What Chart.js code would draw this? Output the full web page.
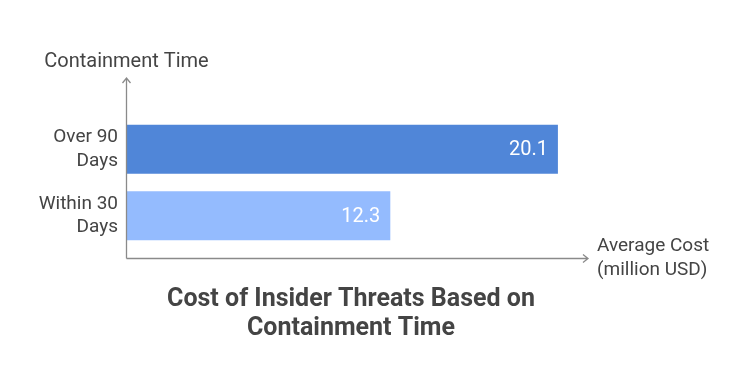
<!DOCTYPE html>
<html>
<head>
<meta charset="utf-8">
<script src="https://cdn.jsdelivr.net/npm/chart.js@4/dist/chart.umd.min.js"></script>
<style>
  html, body { margin: 0; padding: 0; background: #fff; }
  #wrap { width: 750px; height: 390px; }
</style>
</head>
<body>
<div id="wrap"><canvas id="chart"></canvas></div>
<script>
// ========== DATA ==========
const categories = [['Over 90', 'Days'], ['Within 30', 'Days']];
const costs = [20.1, 12.3];
const barColors = ['#5086d8', '#94bbfe'];
const yTitle = 'Containment Time';
const xTitle = ['Average Cost', '(million USD)'];
const chartTitle = ['Cost of Insider Threats Based on', 'Containment Time'];

const TEXT = '#444444';
const AXIS = '#8a8a8a';
const FONT = 'Roboto, "Open Sans", sans-serif';

// ========== AXES + LABELS PLUGIN ==========
const axesPlugin = {
    id: 'axesPlugin',
    afterDatasetsDraw(chart) {
        const { ctx, chartArea: a } = chart;
        const ax = a.left + 0.5;
        const ay = Math.round(a.bottom + 9) + 0.5;
        const topY = a.top - 38;
        ctx.save();
        ctx.strokeStyle = AXIS;
        ctx.lineWidth = 1.3;
        // y axis
        ctx.beginPath();
        ctx.moveTo(ax, ay);
        ctx.lineTo(ax, topY);
        ctx.moveTo(ax - 4, topY + 5);
        ctx.lineTo(ax, topY);
        ctx.lineTo(ax + 4, topY + 5);
        // x axis
        ctx.moveTo(ax, ay);
        ctx.lineTo(a.right, ay);
        ctx.moveTo(a.right - 5, ay - 4);
        ctx.lineTo(a.right, ay);
        ctx.lineTo(a.right - 5, ay + 4);
        ctx.stroke();

        // axis titles
        ctx.fillStyle = TEXT;
        ctx.textBaseline = 'middle';
        ctx.textAlign = 'center';
        ctx.font = '20px ' + FONT;
        ctx.fillText(yTitle, ax, a.top - 54);
        ctx.textAlign = 'left';
        ctx.font = '19px ' + FONT;
        ctx.fillText(xTitle[0], a.right + 9, ay - 12);
        ctx.fillText(xTitle[1], a.right + 9, ay + 12);

        // chart title
        ctx.textAlign = 'center';
        ctx.font = 'bold 25px ' + FONT;
        ctx.fillText(chartTitle[0], 351, ay + 41);
        ctx.fillText(chartTitle[1], 351, ay + 70);

        // value labels inside bars
        const meta = chart.getDatasetMeta(0);
        ctx.fillStyle = '#ffffff';
        ctx.textAlign = 'right';
        ctx.font = '20px ' + FONT;
        meta.data.forEach((bar, i) => {
            ctx.fillText(costs[i].toFixed(1), bar.x - 10, bar.y + 1);
        });
        ctx.restore();
    }
};

// ========== CHART ==========
const ctx = document.getElementById('chart').getContext('2d');
new Chart(ctx, {
    type: 'bar',
    data: {
        labels: categories,
        datasets: [{
            data: costs,
            backgroundColor: barColors,
            borderWidth: 0,
            categoryPercentage: 1,
            barPercentage: 0.74
        }]
    },
    plugins: [axesPlugin],
    options: {
        indexAxis: 'y',
        responsive: true,
        maintainAspectRatio: false,
        animation: false,
        layout: { padding: { top: 116, right: 162, left: 0, bottom: 141 } },
        plugins: {
            legend: { display: false },
            tooltip: { enabled: false },
            title: { display: false }
        },
        scales: {
            x: { display: false, min: 0, max: 21.5 },
            y: {
                grid: { display: false, drawTicks: false },
                border: { display: false },
                afterFit(scale) { scale.width = 126; },
                ticks: {
                    color: TEXT,
                    padding: 8,
                    font: { family: FONT, size: 19, lineHeight: 1.26 }
                }
            }
        }
    }
});
</script>
</body>
</html>
